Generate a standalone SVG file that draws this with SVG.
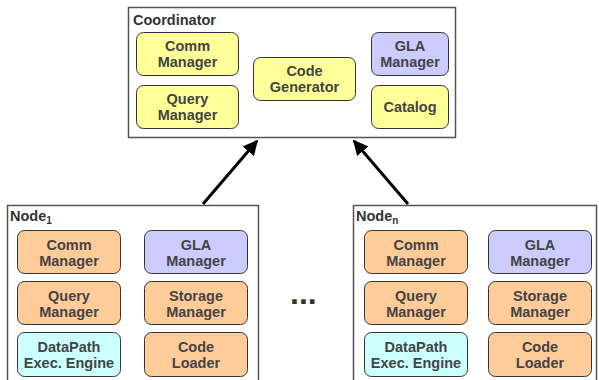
<svg xmlns="http://www.w3.org/2000/svg" width="599" height="380" viewBox="0 0 599 380">
<defs>
<marker id="ah" viewBox="0 0 10 10" refX="9" refY="5" markerWidth="5" markerHeight="5" orient="auto" markerUnits="strokeWidth">
<path d="M0,0 L10,5 L0,10 z" fill="#000"/>
</marker>
<style>
.outer{fill:#fff;stroke:#555;stroke-width:1.5}
.box{stroke:#333;stroke-width:1}
.y{fill:#ffff99}
.o{fill:#ffcc99}
.p{fill:#ccccff}
.c{fill:#ccffff}
text{font-family:"Liberation Sans",Arial,sans-serif;font-weight:bold;font-size:14.5px;fill:#444}
.t{text-anchor:middle}
.lbl{fill:#333}
.conn{stroke:#000;stroke-width:3;fill:none}
</style>
</defs>
<rect width="599" height="380" fill="#fff"/>
<g id="coordinator">
<rect class="outer" x="128.5" y="7.5" width="327" height="130"/>
<text class="lbl" x="133" y="24.5">Coordinator</text>
</g>
<g id="c-comm"><rect class="box y" x="136.5" y="32.5" width="102" height="43" rx="7"/><text class="t" x="187.5" y="50.5">Comm</text><text class="t" x="187.5" y="66.5">Manager</text></g>
<g id="c-query"><rect class="box y" x="136.5" y="85.5" width="102" height="43" rx="7"/><text class="t" x="187.5" y="104">Query</text><text class="t" x="187.5" y="120">Manager</text></g>
<g id="c-codegen"><rect class="box y" x="253.5" y="57.5" width="102" height="43" rx="7"/><text class="t" x="304.5" y="76">Code</text><text class="t" x="304.5" y="92">Generator</text></g>
<g id="c-gla"><rect class="box p" x="371.5" y="32.5" width="77" height="43" rx="7"/><text class="t" x="410" y="50.5">GLA</text><text class="t" x="410" y="66.5">Manager</text></g>
<g id="c-catalog"><rect class="box y" x="371.5" y="85.5" width="77" height="43" rx="7"/><text class="t" x="410" y="112">Catalog</text></g>

<g id="node1">
<rect class="outer" x="7.5" y="205.5" width="251" height="180"/>
<text class="lbl" x="10" y="220.5">Node<tspan font-size="10" dy="3">1</tspan></text>
</g>
<g id="n1-comm"><rect class="box o" x="17.5" y="230.5" width="103" height="43" rx="7"/><text class="t" x="69" y="249.5">Comm</text><text class="t" x="69" y="266">Manager</text></g>
<g id="n1-gla"><rect class="box p" x="144.5" y="230.5" width="103" height="43" rx="7"/><text class="t" x="196" y="249.5">GLA</text><text class="t" x="196" y="266">Manager</text></g>
<g id="n1-query"><rect class="box o" x="17.5" y="281.5" width="103" height="43" rx="7"/><text class="t" x="69" y="300.5">Query</text><text class="t" x="69" y="317">Manager</text></g>
<g id="n1-storage"><rect class="box o" x="144.5" y="281.5" width="103" height="43" rx="7"/><text class="t" x="196" y="300.5">Storage</text><text class="t" x="196" y="317">Manager</text></g>
<g id="n1-datapath"><rect class="box c" x="17.5" y="332.5" width="103" height="44" rx="7"/><text class="t" x="69" y="351.5">DataPath</text><text class="t" x="69" y="368">Exec. Engine</text></g>
<g id="n1-loader"><rect class="box o" x="144.5" y="332.5" width="103" height="44" rx="7"/><text class="t" x="196" y="351.5">Code</text><text class="t" x="196" y="368">Loader</text></g>

<g id="noden">
<rect class="outer" x="353.5" y="205.5" width="243" height="180"/>
<text class="lbl" x="356" y="220.5">Node<tspan font-size="10" dy="3">n</tspan></text>
</g>
<g id="nn-comm"><rect class="box o" x="364.5" y="230.5" width="103" height="43" rx="7"/><text class="t" x="416" y="249.5">Comm</text><text class="t" x="416" y="266">Manager</text></g>
<g id="nn-gla"><rect class="box p" x="488.5" y="230.5" width="103" height="43" rx="7"/><text class="t" x="540" y="249.5">GLA</text><text class="t" x="540" y="266">Manager</text></g>
<g id="nn-query"><rect class="box o" x="364.5" y="281.5" width="103" height="43" rx="7"/><text class="t" x="416" y="300.5">Query</text><text class="t" x="416" y="317">Manager</text></g>
<g id="nn-storage"><rect class="box o" x="488.5" y="281.5" width="103" height="43" rx="7"/><text class="t" x="540" y="300.5">Storage</text><text class="t" x="540" y="317">Manager</text></g>
<g id="nn-datapath"><rect class="box c" x="364.5" y="332.5" width="103" height="44" rx="7"/><text class="t" x="416" y="351.5">DataPath</text><text class="t" x="416" y="368">Exec. Engine</text></g>
<g id="nn-loader"><rect class="box o" x="488.5" y="332.5" width="103" height="44" rx="7"/><text class="t" x="540" y="351.5">Code</text><text class="t" x="540" y="368">Loader</text></g>

<text x="290" y="304" style="font-size:32px;fill:#333">...</text>

<g id="connectors">
<line class="conn" x1="203" y1="204" x2="257" y2="141" marker-end="url(#ah)"/>
<line class="conn" x1="408" y1="204" x2="354" y2="141" marker-end="url(#ah)"/>
</g>
</svg>
